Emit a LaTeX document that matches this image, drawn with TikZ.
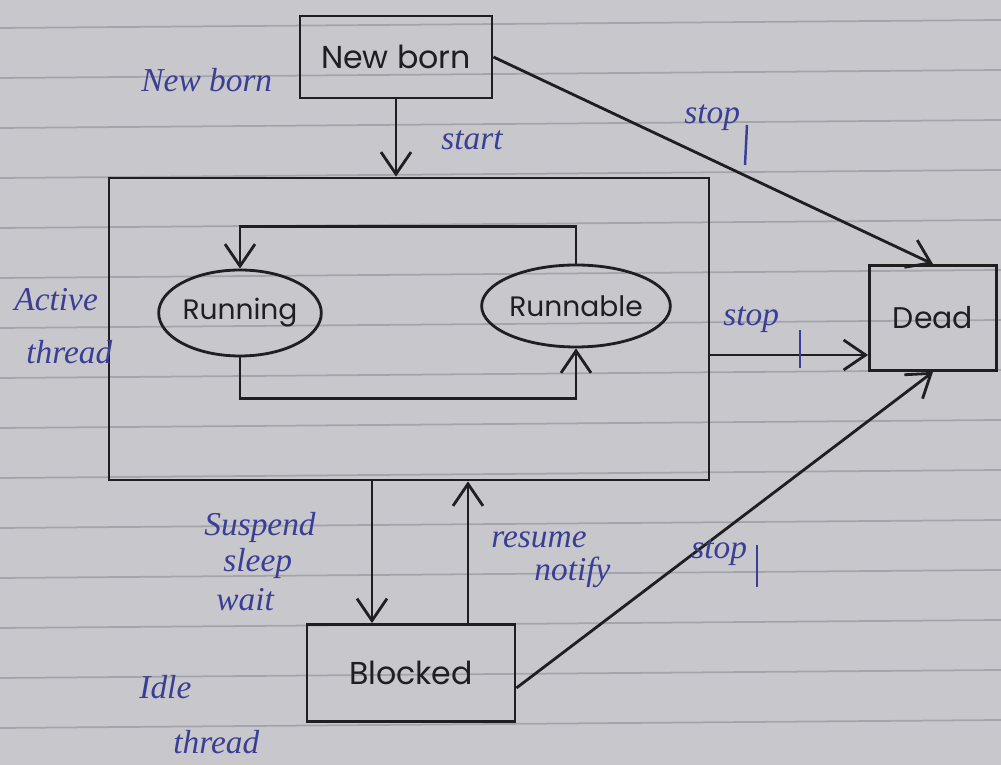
\documentclass[tikz,border=0pt]{standalone}
\usepackage{fontspec}
\setmainfont{Poppins}
\newfontfamily\penfont{Liberation Serif}
\usepackage{tikz}
\usetikzlibrary{arrows.meta,positioning,shapes.geometric}
\definecolor{paper}{HTML}{C8C8CC}
\definecolor{ruling}{HTML}{A3A5AD}
\definecolor{ink}{HTML}{1F1F22}
\definecolor{penblue}{HTML}{3A3E95}

\begin{document}
\begin{tikzpicture}[>={Straight Barb[length=2.2mm,width=3mm]},line width=0.8pt,
  state/.style={draw=ink,rectangle,inner sep=0pt,text=ink,font=\fontsize{9}{10}\selectfont},
  oval/.style={draw=ink,ellipse,inner sep=0pt,text=ink,font=\fontsize{8}{9}\selectfont},
  note/.style={anchor=west,inner sep=0pt,text=penblue,font=\penfont\itshape\fontsize{9.5}{10}\selectfont},
  link/.style={draw=ink,->},
  tick/.style={penblue,line width=0.7pt}]
\fill[paper] (0,0) rectangle (10.01,7.65);
\useasboundingbox (0,0) rectangle (10.01,7.65);
\clip (0,0) rectangle (10.01,7.65);
\foreach \y in {0.37,0.87,...,7.4}
  \draw[ruling,line width=0.5pt] (0,\y) -- (10.01,\y+0.08);

\node[state,minimum width=1.92cm,minimum height=0.82cm] (newborn) at (3.96,7.08) {New born};
\node[state,minimum width=6cm,minimum height=3.02cm] (active) at (4.09,4.36) {};
\node[oval,minimum width=1.46cm,minimum height=0.86cm] (running) at (2.40,4.52) {Running};
\node[oval,minimum width=1.6cm,minimum height=0.82cm] (runnable) at (5.76,4.59) {Runnable};
\node[state,minimum width=1.27cm,minimum height=1.05cm,font=\fontsize{8.5}{9}\selectfont] (dead) at (9.33,4.47) {Dead};
\node[state,minimum width=2.08cm,minimum height=0.97cm] (blocked) at (4.11,0.92) {Blocked};

\node[note] (newbornlbl) at (1.40,6.85) {New born};
\node[note] (activelbl) at (0.13,4.65) {Active};
\node[note] (activethr) at (0.25,4.13) {thread};
\node[note] (idlelbl) at (1.38,0.78) {Idle};
\node[note] (idlethr) at (1.72,0.23) {thread};

\draw[link] (newborn) -- (newborn |- active.north);
\node[note] (startlbl) at (4.40,6.25) {start};

\draw[link] (runnable.north) -- ++(0,0.37) -| (running.north);
\draw[link] (running.south) -- ++(0,-0.41) -| (runnable.south);

\draw[link] (newborn.east) -- (dead.north);
\node[note] (stopa) at (6.83,6.47) {stop};
\draw[tick] (7.47,6.40) -- (7.45,6.00);

\draw[link] (active.east |- 0,4.10) -- (dead.west |- 0,4.10);
\node[note] (stopb) at (7.22,4.45) {stop};
\draw[tick] (8.00,4.35) -- (8.00,3.97);

\draw[link] ([yshift=-0.15cm]blocked.east) -- (dead.south);
\node[note] (stopc) at (6.90,2.12) {stop};
\draw[tick] (7.57,2.20) -- (7.57,1.78);

\draw[link] (3.72,0 |- active.south) -- (3.72,0 |- blocked.north);
\node[note] (suspendlbl) at (2.03,2.38) {Suspend};
\node[note] (sleeplbl) at (2.22,2.02) {sleep};
\node[note] (waitlbl) at (2.15,1.65) {wait};

\draw[link] (4.68,0 |- blocked.north) -- (4.68,0 |- active.south);
\node[note] (resumelbl) at (4.90,2.25) {resume};
\node[note] (notifylbl) at (5.33,1.93) {notify};
\end{tikzpicture}
\end{document}
